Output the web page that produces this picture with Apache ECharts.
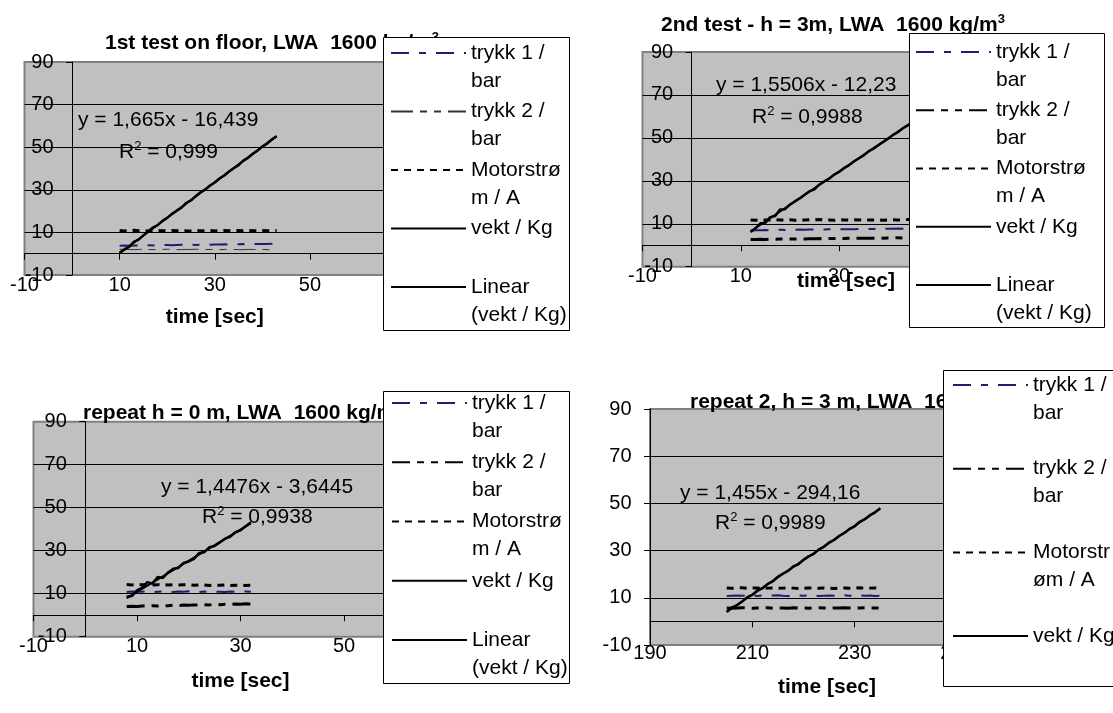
<!DOCTYPE html>
<html>
<head>
<meta charset="utf-8">
<script src="https://cdn.jsdelivr.net/npm/echarts@6/dist/echarts.min.js"></script>
<style>html,body{margin:0;padding:0;background:#fff}#c{width:1113px;height:713px}</style>
</head>
<body>
<div id="c"></div>
<script>
// ---------------- DATA ----------------
// Panel 1: 1st test on floor
const time1 = [10,11,12,13,14,15,16,17,18,19,20,21,22,23,24,25,26,27,28,29,30,31,32,33,34,35,36,37,38,39,40,41,42,43];
const trykk1_1 = [3.7,3.8,3.7,3.9,3.8,3.9,4.0,3.9,4.0,4.0,4.1,4.0,4.1,4.2,4.1,4.2,4.1,4.2,4.3,4.2,4.3,4.3,4.4,4.3,4.4,4.4,4.5,4.4,4.5,4.6,4.5,4.6,4.7,4.6];
const trykk2_1 = [2.1,2.0,2.0,1.9,2.0,2.1,2.0,1.9,2.0,2.0,2.1,2.0,1.9,1.9,2.0,2.0,2.1,2.0,1.9,2.0,2.0,1.9,2.0,2.1,2.0,1.9,1.9,2.0,2.0,1.9,2.0,1.9,1.9,2.0];
const motor1 = [10.9,10.7,10.8,11.0,10.8,10.9,10.7,10.8,10.9,10.8,10.7,10.9,10.8,11.0,10.8,10.7,10.9,10.8,10.8,10.9,10.7,10.8,10.9,10.8,10.7,10.9,10.8,11.0,10.8,10.7,10.9,10.8,10.8,10.9];
const vekt1 = [0.5,2.0,3.2,5.5,6.6,8.6,10.4,12.3,13.4,15.4,16.8,18.7,20.2,21.6,23.8,25.0,27.0,28.9,30.1,32.0,33.4,35.3,36.7,38.6,40.1,41.6,43.7,45.0,46.9,48.4,50.3,51.7,53.6,55.1];
const trendX1 = [10, 43];
const trendY1 = [0.2, 55.2];

// Panel 2: 2nd test - h = 3m
const time2 = [12,13,14,15,16,17,18,19,20,21,22,23,24,25,26,27,28,29,30,31,32,33,34,35,36,37,38,39,40,41,42,43,44,45,46];
const trykk1_2 = [6.9,7.0,7.0,7.1,7.0,7.1,7.2,7.1,7.2,7.2,7.3,7.2,7.3,7.3,7.4,7.3,7.4,7.4,7.5,7.4,7.5,7.5,7.6,7.5,7.6,7.6,7.7,7.6,7.7,7.7,7.8,7.7,7.8,7.8,7.9];
const trykk2_2 = [2.7,2.7,2.8,2.7,2.8,2.8,2.9,2.8,2.9,2.9,3.0,2.9,3.0,3.0,3.1,3.0,3.1,3.1,3.2,3.1,3.2,3.2,3.3,3.2,3.3,3.3,3.4,3.3,3.4,3.4,3.5,3.4,3.5,3.5,3.6];
const motor2 = [11.8,11.6,11.9,11.7,11.8,12.0,11.7,11.8,11.9,11.6,11.8,11.7,11.9,11.8,12.0,11.7,11.8,11.6,11.9,11.8,11.7,11.9,11.8,12.0,11.7,11.8,11.9,11.6,11.8,11.9,11.7,11.8,12.0,11.8,11.7];
const vekt2 = [6.1,7.9,10.2,10.4,13.1,13.6,16.6,16.8,18.9,20.4,21.8,23.5,25.1,26.0,28.3,29.7,31.0,32.9,34.1,35.9,37.2,39.0,40.4,41.8,43.7,45.0,46.6,48.1,49.6,51.4,52.7,54.5,55.8,57.4,59.0];
const trendX2 = [12, 46];
const trendY2 = [6.4, 59.1];

// Panel 3: repeat h = 0 m
const time3 = [8,9,10,11,12,13,14,15,16,17,18,19,20,21,22,23,24,25,26,27,28,29,30,31,32];
const trykk1_3 = [10.8,11.0,10.9,10.9,11.1,10.8,10.9,11.0,10.9,10.8,11.0,10.9,11.1,10.9,10.8,11.0,10.9,11.0,10.9,10.8,11.0,10.9,10.9,11.0,10.9];
const trykk2_3 = [4.0,4.2,4.1,4.3,4.2,4.4,4.3,4.5,4.4,4.6,4.5,4.7,4.6,4.8,4.7,4.9,4.8,5.0,4.9,5.1,5.0,5.2,5.1,5.3,5.2];
const motor3 = [14.3,14.1,14.4,14.2,14.3,14.0,14.2,14.3,14.1,14.2,14.0,14.2,14.1,13.9,14.1,14.0,13.8,14.0,13.9,14.1,13.8,13.9,14.0,13.8,13.9];
const vekt3 = [8.6,8.9,11.6,12.8,15.4,14.7,17.8,17.3,19.9,21.6,22.0,24.3,25.0,26.2,28.9,29.3,31.6,32.2,33.8,35.6,36.5,38.6,39.5,41.4,43.2];
const trendX3 = [8, 32];
const trendY3 = [7.9, 42.7];

// Panel 4: repeat 2, h = 3 m
const time4 = [205,206,207,208,209,210,211,212,213,214,215,216,217,218,219,220,221,222,223,224,225,226,227,228,229,230,231,232,233,234,235];
const trykk1_4 = [10.8,10.9,11.0,10.9,11.1,10.9,10.8,11.0,10.9,11.0,11.1,10.9,10.8,10.9,11.0,10.9,11.1,11.0,10.8,10.9,11.0,10.9,10.9,11.1,10.9,10.8,11.0,10.9,11.0,10.8,10.9];
const trykk2_4 = [5.7,5.6,5.7,5.8,5.7,5.6,5.7,5.7,5.8,5.6,5.7,5.7,5.6,5.8,5.7,5.7,5.6,5.7,5.8,5.7,5.6,5.7,5.7,5.8,5.7,5.6,5.7,5.8,5.7,5.7,5.6];
const motor4 = [14.2,14.0,14.1,14.3,14.0,14.1,14.2,13.9,14.1,14.2,14.0,14.1,14.3,14.1,13.9,14.0,14.2,14.1,14.0,14.2,14.1,13.9,14.1,14.2,14.0,14.1,14.3,14.0,14.1,14.2,14.0];
const vekt4 = [4.0,5.9,6.8,8.4,10.3,11.2,13.1,14.0,15.9,17.0,18.9,20.3,21.4,23.3,24.2,26.1,27.6,28.6,30.5,31.6,33.4,34.5,36.3,37.5,39.2,40.3,42.2,43.3,45.0,46.2,47.9];
const trendX4 = [205, 235];
const trendY4 = [4.1, 47.8];

// Axis ranges / ticks
const xRanges = [[-10, 70], [-10, 70], [-10, 70], [190, 250]];
const yRange = [-10, 90];
const tickStep = 20;

// Texts
const legendLabels = ['trykk 1 /\nbar', 'trykk 2 /\nbar', 'Motorstrø\nm / A', 'vekt / Kg', 'Linear\n(vekt / Kg)'];
const legendLabels4 = ['trykk 1 /\nbar', 'trykk 2 /\nbar', 'Motorstr\nøm / A', 'vekt / Kg'];
const titleTexts = ['1st test on floor, LWA  1600 kg/m', '2nd test - h = 3m, LWA  1600 kg/m', 'repeat h = 0 m, LWA  1600 kg/m', 'repeat 2, h = 3 m, LWA  1600 kg/m'];
const eqTexts = ['y = 1,665x - 16,439', 'y = 1,5506x - 12,23', 'y = 1,4476x - 3,6445', 'y = 1,455x - 294,16'];
const r2Texts = ['0,999', '0,9988', '0,9938', '0,9989'];
const xName = 'time [sec]';

// ---------------- LAYOUT / STYLE ----------------
const FONT = '"Liberation Sans", Arial, Helvetica, sans-serif';
const panels = [
  {time: time1, t1: trykk1_1, t2: trykk2_1, m: motor1, v: vekt1, tx: trendX1, ty: trendY1, labels: legendLabels},
  {time: time2, t1: trykk1_2, t2: trykk2_2, m: motor2, v: vekt2, tx: trendX2, ty: trendY2, labels: legendLabels},
  {time: time3, t1: trykk1_3, t2: trykk2_3, m: motor3, v: vekt3, tx: trendX3, ty: trendY3, labels: legendLabels},
  {time: time4, t1: trykk1_4, t2: trykk2_4, m: motor4, v: vekt4, tx: trendX4, ty: trendY4, labels: legendLabels4}
];
const layout = [
  {grid: {left: 24.5, top: 62, width: 380.5, height: 213}, lg: {left: 390, top: 11, gap: -25.5}, box: [383, 37, 186, 293], title: [105, 31], eq: [78, 108], r2: [119, 140], nameGap: 32, namePad: 0, labelMargin: 0, thinT2: true},
  {grid: {left: 642.5, top: 52, width: 393, height: 214.7}, lg: {left: 915, top: 10, gap: -25.75}, box: [909, 33, 195, 294], title: [661, 13], eq: [716, 73], r2: [752, 105], nameGap: 4, namePad: 14, labelMargin: 0},
  {grid: {left: 33.5, top: 421.7, width: 414, height: 215}, lg: {left: 391, top: 361, gap: -24.75}, box: [383, 391, 186, 292], title: [83, 401], eq: [161, 475], r2: [202, 505], nameGap: 34, namePad: 0, labelMargin: 0},
  {grid: {left: 650, top: 409, width: 307, height: 236}, lg: {left: 952, top: 343, gap: -0.3}, box: [943, 370, 175, 316], title: [690, 390], eq: [680, 481], r2: [715, 511], nameGap: 32, namePad: 47, labelMargin: -2}
];
const ST = {
  t1: {color: '#1e1e70', width: 2, type: [18, 10, 7, 10]},
  t2thin: {color: '#333333', width: 1, type: [22, 7, 7, 7, 7, 7]},
  t2: {color: '#000000', width: 3, type: [18, 7, 7, 7, 7, 7]},
  m: {color: '#000000', width: 3, type: [7, 6]},
  v: {color: '#000000', width: 2.5, type: 'solid'},
  lin: {color: '#000000', width: 2, type: 'solid'}
};

const option = {
  animation: false,
  backgroundColor: '#ffffff',
  textStyle: {fontFamily: FONT},
  grid: [], xAxis: [], yAxis: [], series: [], legend: [], title: [],
  graphic: {elements: []}
};
const labelOf = {};

panels.forEach((p, i) => {
  const L = layout[i];
  const xMin = xRanges[i][0], xMax = xRanges[i][1];
  option.grid.push(Object.assign({show: true, backgroundColor: '#c0c0c0', borderColor: '#808080', borderWidth: 2, containLabel: false, outerBoundsMode: 'none'}, L.grid));
  // zero-crossing x axis line with ticks
  option.xAxis.push({
    type: 'value', gridIndex: i, min: xMin, max: xMax, interval: tickStep, position: 'bottom',
    axisLine: {show: true, onZero: true, lineStyle: {color: '#000', width: 1}},
    axisTick: {show: true, length: 6, lineStyle: {color: '#000', width: 1}},
    axisLabel: {show: false}, splitLine: {show: false}
  });
  // bottom label axis
  option.xAxis.push({
    type: 'value', gridIndex: i, min: xMin, max: xMax, interval: tickStep, position: 'bottom',
    axisLine: {show: false, onZero: false}, axisTick: {show: false},
    axisLabel: {show: true, color: '#000', fontSize: 20, margin: L.labelMargin, fontFamily: FONT},
    splitLine: {show: false},
    name: xName, nameLocation: 'middle', nameGap: L.nameGap, nameMoveOverlap: false,
    nameTextStyle: {color: '#000', fontSize: 21, fontWeight: 'bold', fontFamily: FONT, padding: [0, 0, 0, L.namePad]}
  });
  // y axis crosses at x = 0 when 0 is inside the x range
  const zeroFrac = (xMin < 0 && xMax > 0) ? (0 - xMin) / (xMax - xMin) : 0;
  option.yAxis.push({
    type: 'value', gridIndex: i, min: yRange[0], max: yRange[1], interval: tickStep,
    position: 'left', offset: -zeroFrac * L.grid.width,
    axisLine: {show: true, onZero: false, lineStyle: {color: '#000', width: 1}},
    axisTick: {show: true, length: 6, lineStyle: {color: '#000', width: 1}},
    axisLabel: {color: '#000', fontSize: 20, margin: 18.5, fontFamily: FONT, padding: [6, 0, 0, 0]},
    splitLine: {show: true, showMinLine: false, showMaxLine: false, lineStyle: {color: '#000', width: 1}}
  });

  const names = ['t1', 't2', 'm', 'v', 'lin'].map(k => 'p' + i + '_' + k);
  const mk = (name, xs, ys, style) => ({
    type: 'line', name: name, xAxisIndex: 2 * i, yAxisIndex: i,
    data: xs.map((x, k) => [x, ys[k]]),
    symbol: 'none', showSymbol: false, lineStyle: style, silent: true, animation: false
  });
  option.series.push(mk(names[0], p.time, p.t1, ST.t1));
  option.series.push(mk(names[1], p.time, p.t2, L.thinT2 ? ST.t2thin : ST.t2));
  option.series.push(mk(names[2], p.time, p.m, ST.m));
  option.series.push(mk(names[3], p.time, p.v, ST.v));
  option.series.push(mk(names[4], p.tx, p.ty, ST.lin));

  p.labels.forEach((lab, k) => { labelOf[names[k]] = lab; });

  option.legend.push({
    orient: 'vertical', left: L.lg.left, top: L.lg.top, itemGap: L.lg.gap,
    itemWidth: 75, itemHeight: 14, padding: 0, z: 10, selectedMode: false,
    data: names.slice(0, p.labels.length),
    formatter: function (name) {
      const lines = labelOf[name].split('\n');
      if (lines.length < 2) lines.push(' ');
      return lines.map(s => '{a|' + s + '}').join('\n');
    },
    itemStyle: {opacity: 0, color: 'rgba(0,0,0,0)', borderWidth: 0},
    textStyle: {
      color: '#000', fontSize: 21, lineHeight: 28, fontFamily: FONT,
      padding: [28, 0, 0, 0], backgroundColor: 'rgba(255,255,255,0)',
      rich: {a: {color: '#000', fontSize: 21, lineHeight: 28, fontFamily: FONT}}
    }
  });

  option.graphic.elements.push({
    type: 'rect', z: 9,
    shape: {x: L.box[0] + 0.5, y: L.box[1] + 0.5, width: L.box[2], height: L.box[3]},
    style: {fill: '#ffffff', stroke: '#000000', lineWidth: 1}
  });

  const sup = {fontSize: 13, lineHeight: 10, verticalAlign: 'top', color: '#000', fontFamily: FONT};
  option.title.push({
    left: L.title[0], top: L.title[1], padding: 0, z: 3,
    text: titleTexts[i] + '{s|3}',
    textStyle: {fontSize: 21, fontWeight: 'bold', color: '#000', fontFamily: FONT, lineHeight: 24,
      rich: {s: Object.assign({fontWeight: 'bold'}, sup)}}
  });
  option.title.push({
    left: L.eq[0], top: L.eq[1], padding: 0, z: 3,
    text: eqTexts[i],
    textStyle: {fontSize: 21, fontWeight: 'normal', color: '#000', fontFamily: FONT, lineHeight: 24}
  });
  option.title.push({
    left: L.r2[0], top: L.r2[1], padding: 0, z: 3,
    text: 'R{s|2} = ' + r2Texts[i],
    textStyle: {fontSize: 21, fontWeight: 'normal', color: '#000', fontFamily: FONT, lineHeight: 24,
      rich: {s: Object.assign({fontWeight: 'normal'}, sup)}}
  });
});

const chart = echarts.init(document.getElementById('c'), null, {renderer: 'canvas'});
chart.setOption(option);
</script>
</body>
</html>
